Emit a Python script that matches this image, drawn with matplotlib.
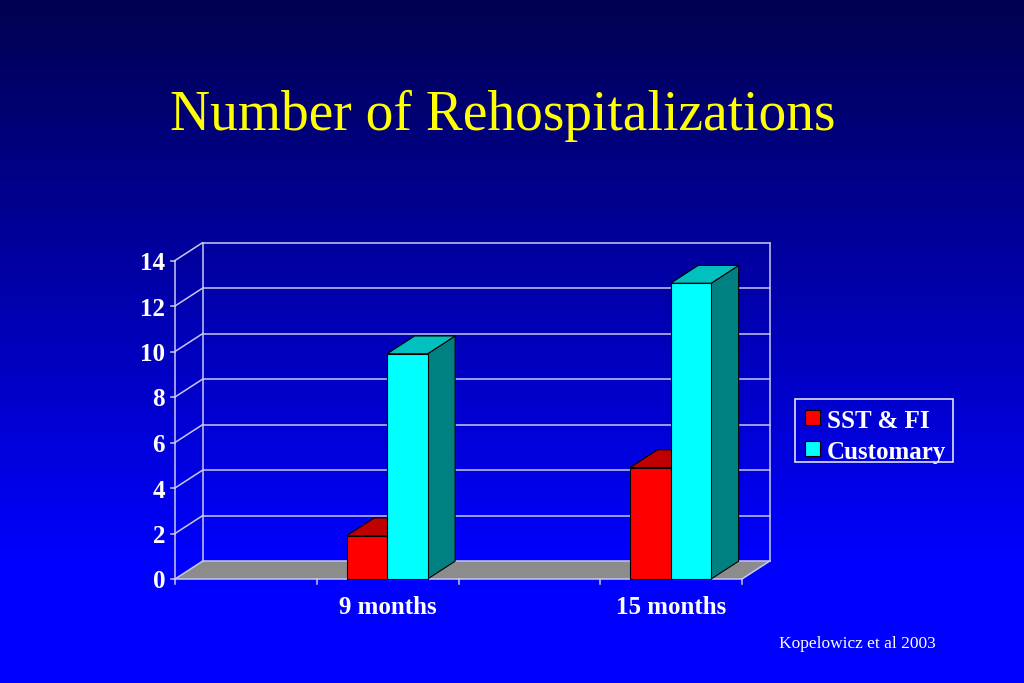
import numpy as np
import matplotlib
matplotlib.use("Agg")
import matplotlib.pyplot as plt
from matplotlib.patches import Polygon, Rectangle

# ---- data ----
slots = ["", "9 months", "", "15 months"]          # category slots on the x axis
sst_fi = [np.nan, 1.9, np.nan, 4.9]
customary = [np.nan, 9.9, np.nan, 13.0]
series_names = ["SST & FI", "Customary"]
yticks = [0, 2, 4, 6, 8, 10, 12, 14]

title = "Number of Rehospitalizations"
source = "Kopelowicz et al 2003"

# ---- styling ----
W, H = 1024, 683
SERIF = "Liberation Serif"
front_cols = ["#FF0000", "#00FFFF"]
top_cols = ["#C00000", "#00C0C0"]
side_cols = ["#800000", "#008080"]
grid_col = "#C8C8F0"
floor_col = "#8C8C8C"

fig = plt.figure(figsize=(W / 100, H / 100), dpi=100)

# background gradient
bg = fig.add_axes([0, 0, 1, 1], zorder=-10)
rows = np.arange(H)
blue = np.clip(80 + (255 - 80) * rows / 560.0, 0, 255) / 255.0
img = np.zeros((H, 1, 3))
img[:, 0, 2] = blue
bg.imshow(img, aspect="auto", extent=[0, 1, 0, 1], origin="upper")
bg.set_axis_off()

# main axes spanning the whole figure; data coords: x in category slots, y in values
ax = fig.add_axes([0, 0, 1, 1], zorder=0)
ax.patch.set_alpha(0)
ax.set_axis_off()
x0_px, x4_px = 175.0, 742.0
y0_px, y14_px = 579.0, 260.5
pxx = (x4_px - x0_px) / len(slots)
pxy = (y0_px - y14_px) / 14.0
ax.set_xlim(-x0_px / pxx, (W - x0_px) / pxx)
ax.set_ylim((y0_px - H) / pxy, y0_px / pxy)

dx = 27.5 / pxx
dy = 17.8 / pxy
ymax = yticks[-1]
nslots = len(slots)

# floor
ax.add_patch(Polygon([(0, 0), (nslots, 0), (nslots + dx, dy), (dx, dy)],
                     closed=True, facecolor=floor_col, edgecolor="none", zorder=1))
lw = 1.1
# floor edges
ax.plot([0, nslots, nslots + dx], [0, 0, dy], color=grid_col, lw=lw, zorder=2)
# back wall gridlines and left wall diagonals
for t in yticks:
    ax.plot([dx, nslots + dx], [t + dy, t + dy], color=grid_col, lw=lw, zorder=2)
    ax.plot([0, dx], [t, t + dy], color=grid_col, lw=lw, zorder=2)
    ax.plot([-4 / pxx, 0], [t, t], color=grid_col, lw=lw, zorder=2)
    ax.text(-10 / pxx, t - 3 / pxy, str(t), ha="right", va="center", color="white",
            fontsize=18, fontweight="bold", family=SERIF)
ax.plot([0, 0], [0, ymax], color=grid_col, lw=lw, zorder=2)
ax.plot([dx, dx], [dy, ymax + dy], color=grid_col, lw=lw, zorder=2)
ax.plot([nslots + dx, nslots + dx], [dy, ymax + dy], color=grid_col, lw=lw, zorder=2)
# category ticks
for i in range(nslots + 1):
    ax.plot([i, i], [0, -5 / pxy], color=grid_col, lw=lw, zorder=2)
for i, lab in enumerate(slots):
    if lab:
        ax.text(i + 0.5, -28 / pxy, lab, ha="center", va="center", color="white",
                fontsize=18, fontweight="bold", family=SERIF)

# 3D bars
bw = 40.5 / pxx
for s, vals in enumerate([sst_fi, customary]):
    for i, v in enumerate(vals):
        if np.isnan(v):
            continue
        xa = i + 0.5 - bw + s * bw - 0.5 / pxx
        xb = xa + bw
        z = 5 + s
        ax.add_patch(Polygon([(xb, 0), (xb + dx, dy), (xb + dx, v + dy), (xb, v)],
                             closed=True, facecolor=side_cols[s], edgecolor="black",
                             lw=0.8, zorder=z))
        ax.add_patch(Polygon([(xa, v), (xb, v), (xb + dx, v + dy), (xa + dx, v + dy)],
                             closed=True, facecolor=top_cols[s], edgecolor="black",
                             lw=0.8, zorder=z))
        ax.add_patch(Polygon([(xa, 0), (xb, 0), (xb, v), (xa, v)],
                             closed=True, facecolor=front_cols[s], edgecolor="black",
                             lw=0.8, zorder=z))

# legend (figure pixel coords)
def fx(px):
    return px / W

def fy(py):
    return 1 - py / H

fig.patches.append(Rectangle((fx(795), fy(462)), fx(953) - fx(795), fy(399) - fy(462),
                             transform=fig.transFigure, facecolor="none",
                             edgecolor="#E0E0FF", lw=1.2, zorder=20))
for k, name in enumerate(series_names):
    cy = 418 + k * 31
    fig.patches.append(Rectangle((fx(805), fy(cy + 7)), fx(15), 15 / H,
                                 transform=fig.transFigure, facecolor=front_cols[k],
                                 edgecolor="black", lw=0.8, zorder=21))
    fig.text(fx(827), fy(cy + 3), name, ha="left", va="center", color="white",
             fontsize=18, fontweight="bold", family=SERIF)

# title and source
fig.text(fx(503), fy(130), title, ha="center", va="baseline", color="#FFFF00",
         fontsize=40, family=SERIF)
fig.text(fx(779), fy(648), source, ha="left", va="baseline", color="white",
         fontsize=12.5, family=SERIF)

fig.savefig("out.png", dpi=100)
